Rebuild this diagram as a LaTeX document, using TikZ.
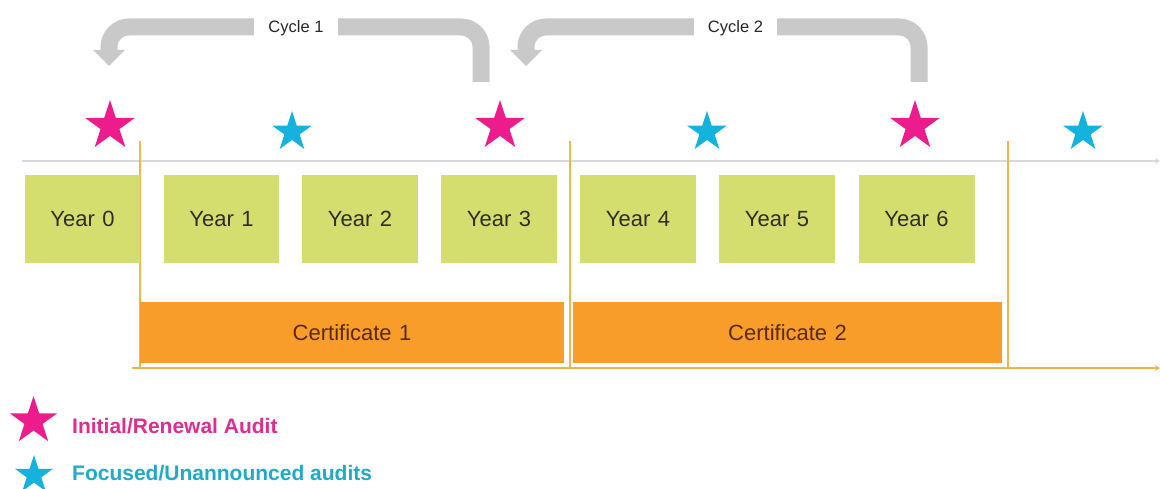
\documentclass[tikz,border=0pt]{standalone}
\usepackage{fontspec}
\setmainfont{Liberation Sans}
\usetikzlibrary{shapes.geometric,arrows.meta}
\definecolor{yearg}{HTML}{D4DE6E}
\definecolor{certo}{HTML}{F89D2A}
\definecolor{magst}{HTML}{EC1C8C}
\definecolor{cyast}{HTML}{16B2DE}
\definecolor{cycg}{HTML}{C9C9C9}
\definecolor{tline}{HTML}{D9D9D9}
\definecolor{oline}{HTML}{F2B54A}
\definecolor{yeartxt}{HTML}{2E2E22}
\definecolor{certtxt}{HTML}{5A2A08}
\definecolor{legmag}{HTML}{DC2E8E}
\definecolor{legcya}{HTML}{20A9C8}
\begin{document}
\begin{tikzpicture}[x=1pt,y=-1pt,
  yearbox/.style={fill=yearg,draw=none,inner sep=0pt,text=yeartxt,font=\fontsize{22}{24}\selectfont},
  certbox/.style={fill=certo,draw=none,inner sep=0pt,text=certtxt,font=\fontsize{22}{24}\selectfont},
  bigstar/.style={star,star points=5,star point ratio=2.618,fill=magst,draw=none,inner sep=0pt,minimum size=52pt},
  smallstar/.style={star,star points=5,star point ratio=2.618,fill=cyast,draw=none,inner sep=0pt,minimum size=42pt},
  cycband/.style={draw=cycg,line width=17pt,rounded corners=20pt},
  cyclabel/.style={fill=white,inner xsep=14pt,minimum height=24pt,font=\fontsize{16.5}{18}\selectfont,text=black!85},
  vline/.style={draw=oline,line width=1.1pt},
  legtxt/.style={anchor=base west,inner sep=0pt,font=\fontsize{21}{23}\selectfont\bfseries}
]
\useasboundingbox (0,0) rectangle (1160,489);

% timeline lines
\coordinate (tl0) at (22,161);
\coordinate (tl1) at (1160,161);
\draw[tline,line width=1.8pt,-{Stealth[length=5pt,width=6pt]}] (tl0) -- (tl1);
\coordinate (bl0) at (132,368);
\coordinate (bl1) at (1160,368);
\draw[oline,line width=1.8pt,-{Stealth[length=5pt,width=6pt]}] (bl0) -- (bl1);

% vertical separators
\coordinate (v1a) at (140,141); \coordinate (v1b) at (140,368);
\coordinate (v2a) at (570,141); \coordinate (v2b) at (570,368);
\coordinate (v3a) at (1008,141); \coordinate (v3b) at (1008,368);
\draw[vline] (v1a) -- (v1b);
\draw[vline] (v2a) -- (v2b);
\draw[vline] (v3a) -- (v3b);

% year boxes
\node[yearbox,minimum width=115pt,minimum height=88pt] (y0) at (82.5,219) {Year\,\,0};
\node[yearbox,minimum width=115pt,minimum height=88pt] (y1) at (221.5,219) {Year\,\,1};
\node[yearbox,minimum width=116pt,minimum height=88pt] (y2) at (360,219) {Year\,\,2};
\node[yearbox,minimum width=116pt,minimum height=88pt] (y3) at (499,219) {Year\,\,3};
\node[yearbox,minimum width=116pt,minimum height=88pt] (y4) at (638,219) {Year\,\,4};
\node[yearbox,minimum width=116pt,minimum height=88pt] (y5) at (777,219) {Year\,\,5};
\node[yearbox,minimum width=116pt,minimum height=88pt] (y6) at (916.5,219) {Year\,\,6};

% certificates
\node[certbox,minimum width=424pt,minimum height=61pt] (c1) at (352,332.5) {Certificate\,\,1};
\node[certbox,minimum width=429pt,minimum height=61pt] (c2) at (787.5,332.5) {Certificate\,\,2};

% stars
\node[bigstar] (m0) at (110,126) {};
\node[bigstar] (m1) at (500,126) {};
\node[bigstar] (m2) at (915,126) {};
\node[smallstar] (s1) at (292,132) {};
\node[smallstar] (s2) at (707,132) {};
\node[smallstar] (s3) at (1083,132) {};

% cycle arrows
\coordinate (c1s) at (481,82);
\coordinate (c1r) at (481,27);
\coordinate (c1l) at (109,27);
\coordinate (c1e) at (109,51);
\draw[cycband] (c1s) -- (c1r) -- (c1l) -- (c1e);
\fill[cycg] (93,50) -- (125,50) -- (109,66) -- cycle;
\node[cyclabel] (cy1) at (296,28) {Cycle 1};

\coordinate (c2s) at (919,82);
\coordinate (c2r) at (919,27);
\coordinate (c2l) at (526,27);
\coordinate (c2e) at (526,51);
\draw[cycband] (c2s) -- (c2r) -- (c2l) -- (c2e);
\fill[cycg] (510,50) -- (542,50) -- (526,66) -- cycle;
\node[cyclabel] (cy2) at (735.5,28) {Cycle 2};

% legend
\node[bigstar,minimum size=50pt] (lm) at (33.5,421) {};
\node[legtxt,text=legmag] (lmt) at (72,433) {Initial/Renewal Audit};
\node[smallstar,minimum size=40pt] (lc) at (34,475) {};
\node[legtxt,text=legcya] (lct) at (72,480) {Focused/Unannounced audits};
\end{tikzpicture}
\end{document}
